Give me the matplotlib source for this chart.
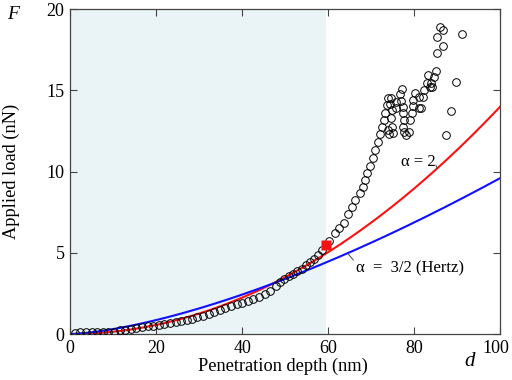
import matplotlib.pyplot as plt
import numpy as np
from matplotlib.transforms import ScaledTranslation

plt.rcParams['font.family'] = ['Liberation Serif', 'DejaVu Serif']

# measured penetration depth (nm) and applied load (nN)
depth = [1.2, 2.4, 3.7, 5.0, 6.3, 7.6, 8.9, 10.2, 11.5, 12.8, 14.1, 15.4, 16.7, 18.0,
         19.3, 20.6, 21.9, 23.2, 24.5, 25.8, 27.1, 28.3, 29.6, 30.9, 32.2, 33.5, 34.8,
         36.1, 37.4, 38.7, 40.0, 41.3, 42.6, 43.9, 45.2, 46.5, 47.8, 48.8, 49.8, 50.8,
         51.8, 52.8, 53.8, 54.8, 55.8, 56.8, 57.7, 58.5, 60.3,
         61.6, 62.6, 63.6, 64.5, 65.5, 66.3, 67.3, 68.1, 68.6, 69.1, 69.8, 70.4, 70.8,
         71.5, 72.0, 72.5, 72.9, 73.3, 73.6, 74.0, 74.6, 74.4, 74.8, 74.6, 74.8, 75.0,
         74.1, 73.8, 75.8, 75.8, 76.6, 77.1, 76.9, 77.4, 77.5, 77.7, 77.5, 77.7, 78.1,
         78.7, 79.1, 79.5, 79.7, 79.7, 80.2, 81.0, 81.0, 81.6, 82.2, 82.0, 83.0, 83.3,
         83.9, 84.1, 83.7, 84.5, 85.0, 85.3, 86.7, 85.4, 85.9, 86.6, 87.4, 88.5, 89.8,
         91.2]
load = [0.05, 0.10, 0.13, 0.14, 0.15, 0.14, 0.12, 0.15, 0.22, 0.27, 0.32, 0.37, 0.42, 0.47,
        0.52, 0.57, 0.62, 0.68, 0.75, 0.81, 0.87, 0.93, 1.02, 1.12, 1.24, 1.36, 1.48,
        1.60, 1.72, 1.84, 1.94, 2.04, 2.15, 2.28, 2.45, 2.64, 2.95, 3.20, 3.38, 3.55,
        3.72, 3.88, 4.03, 4.22, 4.42, 4.64, 4.88, 5.15, 5.70,
        6.23, 6.55, 6.85, 7.38, 7.83, 8.25, 8.66, 9.06, 9.48, 9.89, 10.34, 10.81, 11.32,
        11.83, 12.31, 12.76, 13.17, 13.62, 14.09, 14.50, 14.50, 14.13, 13.78, 13.27, 12.76, 12.35,
        12.30, 12.55, 13.89, 14.30, 14.75, 15.08, 14.34, 13.99, 13.58, 13.17, 12.76, 12.45, 12.25,
        12.41, 13.17, 13.58, 14.05, 14.40, 14.81, 14.60, 13.93, 13.89, 15.00, 14.60, 15.47, 15.94,
        15.43, 15.18, 15.20, 15.83, 16.20, 17.31, 17.74, 18.26, 18.87, 18.70, 12.25, 13.74, 15.53,
        18.46]

# model fits F = k * d**alpha
k_alpha2 = 0.0014
k_hertz = 0.0096
marked_depth = 59.4
marked_load = 5.45

d = np.linspace(0, 100, 300)

fig, ax = plt.subplots(figsize=(5.12, 3.8), dpi=100)
fig.subplots_adjust(left=0.137, right=0.977, bottom=0.121, top=0.976)

ax.axvspan(0, 59.5, color='#eaf3f6', lw=0, zorder=0)
ax.plot(d, k_alpha2 * d**2, color='#ff1010', lw=1.5, zorder=2)
ax.plot(d, k_hertz * d**1.5, color='#1010ff', lw=1.5, zorder=2)
ax.plot(depth, load, 'o', mfc='none', mec='black', ms=5.5, mew=0.7, zorder=3)
ax.plot(marked_depth, marked_load, 's', color='#ff1010', mec='none', ms=7, zorder=4)

ax.annotate('α = 2', xy=(85.3, k_alpha2 * 85.3**2), xytext=(77.0, 10.6),
            fontsize=12, va='center', ha='left',
            arrowprops=dict(arrowstyle='-', color='#444444', lw=0.7, shrinkA=0, shrinkB=0,
                            relpos=(1.0, 0.3)))
ax.annotate('α  =  3/2 (Hertz)', xy=(64.5, k_hertz * 64.5**1.5), xytext=(66.5, 4.05),
            fontsize=12, va='center', ha='left',
            arrowprops=dict(arrowstyle='-', color='#444444', lw=0.7, shrinkA=0, shrinkB=0,
                            relpos=(0.0, 0.8)))

ax.set_xlim(0, 100)
ax.set_ylim(0, 20)
ax.set_xticks([0, 20, 40, 60, 80, 100])
ax.set_yticks([0, 5, 10, 15, 20])
ax.tick_params(direction='in', length=5, width=0.8, top=True, right=True,
               labelsize=13, color='#444444', pad=4)
for s in ax.spines.values():
    s.set_color('#444444')
    s.set_linewidth(0.9)

# keep the "100" label inside the figure
last = ax.xaxis.get_major_ticks()[-1].label1
last.set_transform(last.get_transform() + ScaledTranslation(-3 / 72, 0, fig.dpi_scale_trans))

ax.set_xlabel('Penetration depth (nm)', fontsize=13.2)
ax.set_ylabel('Applied load (nN)', fontsize=13.2)
ax.xaxis.set_label_coords(0.495, -0.074)
ax.yaxis.set_label_coords(-0.116, 0.5)
fig.text(0.025, 0.962, 'F', fontsize=14, style='italic', ha='center', va='center')
fig.text(0.918, 0.05, 'd', fontsize=15, style='italic', ha='center', va='center')

fig.savefig('out.png', dpi=100)
